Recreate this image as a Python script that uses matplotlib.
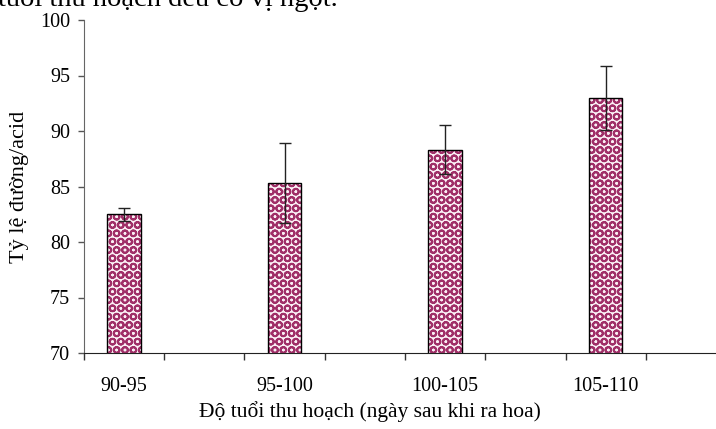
import numpy as np
import matplotlib.pyplot as plt

# sugar/acid ratio by harvest age (days after flowering)
groups = ["90-95", "95-100", "100-105", "105-110"]
ratio = [82.5, 85.3, 88.3, 93.0]
ratio_err = [0.6, 3.6, 2.2, 2.9]

# the chart has empty slots between the groups
n_slots = 8
slot_of_group = [0, 2, 4, 6]

plt.rcParams["font.family"] = ["Liberation Serif", "DejaVu Serif"]
plt.rcParams["hatch.linewidth"] = 1.4

fig = plt.figure(figsize=(7.16, 4.29), dpi=100)
ax = fig.add_axes([84 / 716, 1 - 353 / 429, 642 / 716, 333 / 429])

# patterned fill first, then the black outline on top
ax.bar(slot_of_group, ratio, width=0.42, color="#fbf0f5",
       edgecolor="#a02f68", linewidth=0, hatch="OO", zorder=2)
ax.bar(slot_of_group, ratio, width=0.42, fill=False,
       edgecolor="black", linewidth=1.0, zorder=2.5)

ax.errorbar(slot_of_group, ratio, yerr=ratio_err, fmt="none",
            ecolor="#222222", elinewidth=1.0, capsize=4.5, capthick=1.0,
            zorder=3)

ax.set_ylim(70, 100)
ax.set_yticks(np.arange(70, 101, 5))
ax.set_xlim(-0.5, n_slots - 0.5)

# tick marks on slot edges, labels under the bars
ax.set_xticks(np.arange(-0.5, n_slots, 1.0))
ax.set_xticklabels([])
ax.set_xticks(slot_of_group, minor=True)
ax.set_xticklabels(groups, minor=True)
ax.tick_params(axis="x", which="major", length=5, width=1, color="#333333")
ax.tick_params(axis="x", which="minor", length=0, pad=17, labelsize=14.5)
ax.tick_params(axis="y", length=4, width=1, color="#555555", pad=6,
               labelsize=14.5)

for side in ("top", "right"):
    ax.spines[side].set_visible(False)
ax.spines["left"].set_color("#666666")
ax.spines["bottom"].set_color("#222222")

ax.set_ylabel("Tỷ lệ đường/acid", fontsize=16)
ax.yaxis.set_label_coords(-0.085, 0.5)
ax.set_xlabel("Độ tuổi thu hoạch (ngày sau khi ra hoa)", fontsize=15.5)
ax.xaxis.set_label_coords(0.445, -0.145)

# tail of the paragraph above the chart
fig.text(-0.003, 1 - 5.5 / 429, "tuổi thu hoạch đều có vị ngọt.",
         fontsize=20.5, ha="left", va="baseline")

fig.savefig("out.png", dpi=100)
